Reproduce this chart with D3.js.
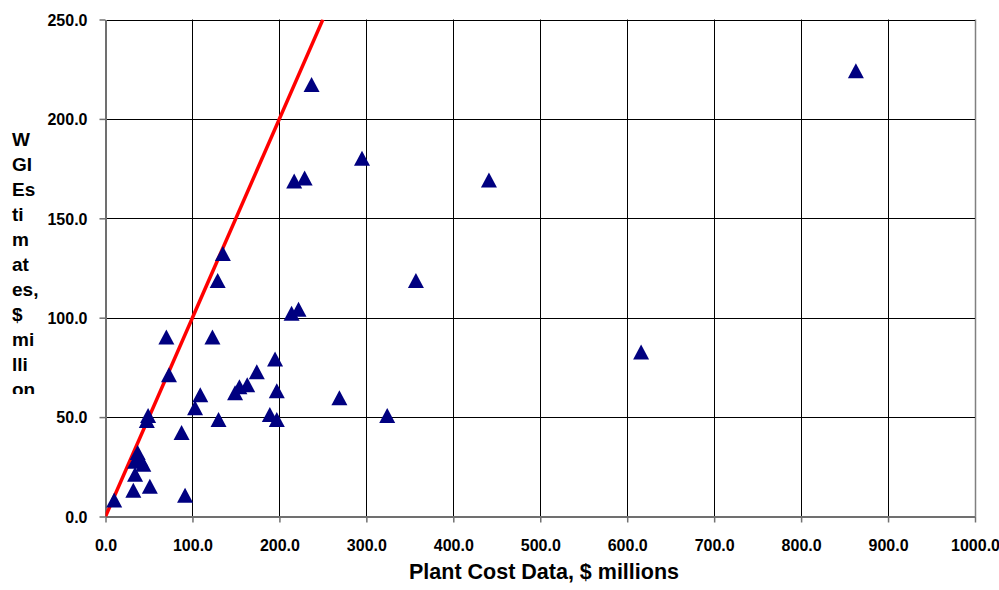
<!DOCTYPE html>
<html>
<head>
<meta charset="utf-8">
<script src="https://cdn.jsdelivr.net/npm/d3@7"></script>
<style>
  html, body { margin: 0; padding: 0; background: #fff; }
  svg { display: block; font-family: "Liberation Sans", Arial, sans-serif; }
</style>
</head>
<body>
<svg id="chart" width="999" height="590"></svg>
<script>
// ---- data ----
const plantCost = [863, 237, 295, 229, 217, 441, 135, 129, 357, 222, 214, 70, 123, 73, 195, 174,
  163, 154, 149, 109, 103, 197, 130, 189, 197, 49, 47.5, 87.5, 37, 40, 34, 43.5, 34, 32, 51, 91.5,
  10, 324, 269, 616];
const wgiEstimate = [224, 217, 180, 170, 168.5, 169, 132, 118.5, 118.5, 104, 102, 90, 90, 71, 79, 72.5,
  66, 65, 62, 61, 54.5, 63, 48.5, 51, 48.5, 50.5, 48, 42, 32, 28.5, 27.5, 26, 21, 13, 15, 10.5,
  8, 50.5, 59.5, 82.5];
const xTicks = [0, 100, 200, 300, 400, 500, 600, 700, 800, 900, 1000];
const yTicks = [0, 50, 100, 150, 200, 250];
const refLine = [[0, 0], [250, 250]];
const xTitle = "Plant Cost Data, $ millions";
const yTitleLines = ["W", "GI", "Es", "ti", "m", "at", "es,", "$", "mi", "lli", "on"];

// ---- layout ----
(function () {
const svg = d3.select("#chart");
const pL = 105.5, pR = 975, pT = 19.5, pB = 516.5;
const x = d3.scaleLinear().domain([0, 1000]).range([pL, pR]);
const y = d3.scaleLinear().domain([0, 250]).range([pB, pT]);

const defs = svg.append("defs");
defs.append("clipPath").attr("id", "plotclip")
  .append("rect").attr("x", pL).attr("y", pT).attr("width", pR - pL).attr("height", pB - pT);
defs.append("clipPath").attr("id", "ytclip")
  .append("rect").attr("x", 0).attr("y", 120).attr("width", 90).attr("height", 274);

// gridlines
const grid = svg.append("g");
grid.selectAll("line.v").data(xTicks.filter(d => d > 0)).join("line")
  .attr("x1", d => Math.round(x(d)) + 0.5).attr("x2", d => Math.round(x(d)) + 0.5)
  .attr("y1", pT).attr("y2", pB)
  .attr("stroke", d => d === 1000 ? "#808080" : "#000").attr("stroke-width", d => d === 1000 ? 1.5 : 1);
grid.selectAll("line.h").data(yTicks.filter(d => d > 0)).join("line")
  .attr("y1", d => Math.round(y(d)) + 0.5).attr("y2", d => Math.round(y(d)) + 0.5)
  .attr("x1", pL).attr("x2", pR)
  .attr("stroke", "#000").attr("stroke-width", 1);

// axes
const xAxis = svg.append("g").attr("transform", `translate(0,${pB})`)
  .call(d3.axisBottom(x).tickValues(xTicks).tickSize(6).tickSizeOuter(0).tickFormat(d3.format(".1f")));
const yAxis = svg.append("g").attr("transform", `translate(${pL},0)`)
  .call(d3.axisLeft(y).tickValues(yTicks).tickSize(6).tickSizeOuter(0).tickFormat(d3.format(".1f")));
[xAxis, yAxis].forEach(g => {
  g.select(".domain").attr("stroke", "#707070").attr("stroke-width", 2);
  g.selectAll(".tick line").attr("stroke", "#707070").attr("stroke-width", 1.5);
  g.selectAll(".tick text").attr("fill", "#000").attr("font-size", 16).attr("font-weight", "bold")
    .attr("font-family", "Liberation Sans, Arial, sans-serif");
});
xAxis.selectAll(".tick text").attr("dy", null).attr("y", 34);
yAxis.selectAll(".tick text").attr("x", -18).attr("dy", "0.36em");

// reference line y = x
svg.append("g").attr("clip-path", "url(#plotclip)").append("path")
  .datum(refLine)
  .attr("d", d3.line().x(d => x(d[0])).y(d => y(d[1])))
  .attr("stroke", "#ff0000").attr("stroke-width", 3.5).attr("fill", "none");

// markers
const tri = "M0,-8L8,7L-8,7Z";
svg.append("g").selectAll("path").data(plantCost.map((v, i) => [v, wgiEstimate[i]])).join("path")
  .attr("d", tri)
  .attr("transform", d => `translate(${x(d[0])},${y(d[1])})`)
  .attr("fill", "#000080");

// titles
svg.append("text").attr("x", 544).attr("y", 579)
  .attr("text-anchor", "middle").attr("font-size", 21.5).attr("font-weight", "bold").text(xTitle);

svg.append("g").attr("clip-path", "url(#ytclip)")
  .selectAll("text").data(yTitleLines).join("text")
  .attr("x", 12).attr("y", (d, i) => 146 + i * 25)
  .attr("font-size", 19).attr("font-weight", "bold").text(d => d);
})();
</script>
</body>
</html>
